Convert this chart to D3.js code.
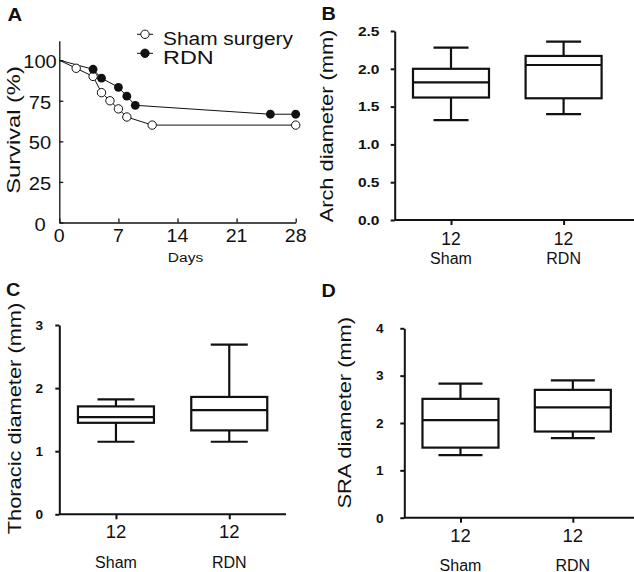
<!DOCTYPE html>
<html><head><meta charset="utf-8">
<script src="https://cdn.jsdelivr.net/npm/d3@7"></script>
<style>body{margin:0;background:#fff} svg{display:block} text{font-family:"Liberation Sans",Arial,sans-serif;fill:#111}</style>
</head><body>
<svg id="c" width="634" height="572"></svg>
<script>
// ---- Panel A: survival data ----
const shamDays = [0, 2, 4, 5, 6, 7, 8, 11, 28];
const shamSurvival = [100, 95, 90, 80, 75, 70, 65, 60, 60];
const rdnDays = [0, 4, 5, 7, 8, 9, 25, 28];
const rdnSurvival = [100, 94.4, 88.9, 83.3, 77.8, 72.2, 66.7, 66.7];
const dayTicks = [0, 7, 14, 21, 28];
const survivalTicks = [0, 25, 50, 75, 100];
const legendLabels = ["Sham surgery", "RDN"];

// ---- Panels B-D: box plots [low whisker, Q1, median, Q3, high whisker] ----
const groups = ["Sham", "RDN"];
const groupN = ["12", "12"];
const archSham = [1.32, 1.62, 1.82, 2.00, 2.28];
const archRDN = [1.40, 1.61, 2.05, 2.17, 2.36];
const archTicks = [0, 0.5, 1.0, 1.5, 2.0, 2.5];
const thoracicSham = [1.15, 1.45, 1.54, 1.71, 1.82];
const thoracicRDN = [1.15, 1.33, 1.65, 1.86, 2.69];
const thoracicTicks = [0, 1, 2, 3];
const sraSham = [1.32, 1.48, 2.06, 2.51, 2.83];
const sraRDN = [1.68, 1.82, 2.33, 2.70, 2.90];
const sraTicks = [0, 1, 2, 3, 4];

const svg = d3.select("#c");

function txt(g, s, x, y, o = {}) {
  const t = g.append("text")
    .attr("transform", `translate(${x},${y}) rotate(${o.rot || 0}) scale(${o.sx || 1},1)`)
    .attr("text-anchor", o.anchor || "start")
    .style("font-size", (o.size || 14) + "px")
    .style("font-weight", o.bold ? "bold" : "normal")
    .text(s);
  return t;
}

// ================= Panel A =================
{
  const g = svg.append("g");
  const x = d3.scaleLinear().domain([0, 28]).range([59.3, 295.7]);
  const y = d3.scaleLinear().domain([0, 112]).range([222.5, 40.7]);

  const ax = g.append("g").attr("transform", `translate(0,${y(0)})`)
    .call(d3.axisBottom(x).tickValues(dayTicks).tickSizeInner(-4).tickSizeOuter(0).tickFormat(""));
  const ay = g.append("g").attr("transform", `translate(${x(0)},0)`)
    .call(d3.axisLeft(y).tickValues(survivalTicks).tickSizeInner(-4).tickSizeOuter(0).tickFormat(""));
  [ax, ay].forEach(a => { a.selectAll("path,line").attr("stroke", "#111").attr("stroke-width", 1.3); });

  survivalTicks.forEach(v => txt(g, String(v), 40, y(v) + 8, {anchor: "middle", size: 17.5, sx: 1.15}));
  dayTicks.forEach(v => txt(g, String(v), x(v), 241.7, {anchor: "middle", size: 17.5, sx: 1.12}));
  txt(g, "Days", 185.5, 261.5, {anchor: "middle", size: 13.5, sx: 1.15});
  txt(g, "Survival (%)", 20, 130, {anchor: "middle", size: 18.5, sx: 1.28, rot: -90});
  txt(g, "A", 7.5, 20.5, {size: 18.5, bold: true, sx: 1.1});

  const line = d3.line().x(d => x(d[0])).y(d => y(d[1]));
  const sham = shamDays.map((d, i) => [d, shamSurvival[i]]);
  const rdn = rdnDays.map((d, i) => [d, rdnSurvival[i]]);
  g.append("path").attr("d", line(sham)).attr("fill", "none").attr("stroke", "#111").attr("stroke-width", 1);
  g.append("path").attr("d", line(rdn)).attr("fill", "none").attr("stroke", "#111").attr("stroke-width", 1);
  g.selectAll(".ps").data(sham.slice(1)).join("circle")
    .attr("cx", d => x(d[0])).attr("cy", d => y(d[1])).attr("r", 4.2)
    .attr("fill", "#fff").attr("stroke", "#111").attr("stroke-width", 1);
  g.selectAll(".pr").data(rdn.slice(1)).join("circle")
    .attr("cx", d => x(d[0])).attr("cy", d => y(d[1])).attr("r", 4.4)
    .attr("fill", "#111");

  // legend
  const leg = [{y: 34.3, fill: "#fff"}, {y: 53.3, fill: "#111"}];
  leg.forEach((l, i) => {
    g.append("line").attr("x1", 137).attr("x2", 153).attr("y1", l.y).attr("y2", l.y).attr("stroke", "#111").attr("stroke-width", 1);
    g.append("circle").attr("cx", 145).attr("cy", l.y).attr("r", 4.2).attr("fill", l.fill).attr("stroke", "#111").attr("stroke-width", 1);
    txt(g, legendLabels[i], 163, l.y + 10.5, {size: 18, sx: i === 0 ? 1.16 : 1.3});
  });
}

// ================= Box panels =================
function boxPanel(cfg) {
  const g = svg.append("g");
  const y = d3.scaleLinear().domain(cfg.domain).range([cfg.y0, cfg.y1]);
  const x = d3.scalePoint().domain(groups).range([cfg.x0, cfg.x0 + 2 * cfg.step]).padding(0.5);

  const ay = g.append("g").attr("transform", `translate(${cfg.x0},0)`)
    .call(d3.axisLeft(y).tickValues(cfg.ticks).tickSizeInner(4).tickSizeOuter(0).tickFormat(""));
  const ax = g.append("g").attr("transform", `translate(0,${cfg.y0})`)
    .call(d3.axisBottom(x).tickSizeInner(5).tickSizeOuter(0).tickFormat(""));
  ax.select(".domain").attr("d", `M${cfg.x0},0H${cfg.xEnd}`);
  [ax, ay].forEach(a => { a.selectAll("path,line").attr("stroke", "#111").attr("stroke-width", 2); });

  cfg.ticks.forEach(v => txt(g, cfg.fmt(v), cfg.labelX, y(v) + 4.8, {anchor: "end", size: cfg.tickSize, bold: true, sx: cfg.tickSx}));
  groups.forEach((gr, i) => {
    txt(g, groupN[i], x(gr), cfg.nY, {anchor: "middle", size: cfg.nSize});
    txt(g, gr, x(gr), cfg.catY, {anchor: "middle", size: 16});
  });
  txt(g, cfg.ylabel, cfg.ylabX, cfg.ylabY, {anchor: "middle", size: 18.5, sx: 1.18, rot: -90});
  txt(g, cfg.letter, cfg.letterX, cfg.letterY, {size: 18, bold: true, sx: 1.1});

  const bw = 76, cw = cfg.capW;
  [cfg.sham, cfg.rdn].forEach((s, i) => {
    const cx = x(groups[i]);
    const L = (x1, y1, x2, y2) => g.append("line").attr("x1", x1).attr("y1", y1).attr("x2", x2).attr("y2", y2)
      .attr("stroke", "#111").attr("stroke-width", 2.2);
    L(cx, y(s[0]), cx, y(s[1]));
    L(cx, y(s[3]), cx, y(s[4]));
    L(cx - cw / 2, y(s[0]), cx + cw / 2, y(s[0]));
    L(cx - cw / 2, y(s[4]), cx + cw / 2, y(s[4]));
    g.append("rect").attr("x", cx - bw / 2).attr("y", y(s[3])).attr("width", bw).attr("height", y(s[1]) - y(s[3]))
      .attr("fill", "#fff").attr("stroke", "#111").attr("stroke-width", 2.2);
    L(cx - bw / 2, y(s[2]), cx + bw / 2, y(s[2]));
  });
}

boxPanel({domain: [0, 2.5], y0: 220, y1: 31, x0: 394.7, step: 112.6, xEnd: 634, ticks: archTicks,
  fmt: d3.format(".1f"), labelX: 379.5, tickSize: 13.5, tickSx: 1.15, nY: 245, nSize: 17.5, catY: 264,
  ylabel: "Arch diameter (mm)", ylabX: 333, ylabY: 126, letter: "B", letterX: 321.5, letterY: 19.5,
  sham: archSham, rdn: archRDN, capW: 35});

boxPanel({domain: [0, 3], y0: 514.3, y1: 325, x0: 59.3, step: 113.3, xEnd: 286, ticks: thoracicTicks,
  fmt: d3.format("d"), labelX: 43, tickSize: 13, tickSx: 1.05, nY: 538.3, nSize: 18.5, catY: 568.3,
  ylabel: "Thoracic diameter (mm)", ylabX: 21, ylabY: 418.5, letter: "C", letterX: 6, letterY: 296,
  sham: thoracicSham, rdn: thoracicRDN, capW: 37});

boxPanel({domain: [0, 4], y0: 517.7, y1: 328.3, x0: 404.3, step: 112.35, xEnd: 634, ticks: sraTicks,
  fmt: d3.format("d"), labelX: 383.7, tickSize: 13, tickSx: 1.05, nY: 541.5, nSize: 18.5, catY: 570.5,
  ylabel: "SRA diameter (mm)", ylabX: 351, ylabY: 412.7, letter: "D", letterX: 321.5, letterY: 296.5,
  sham: sraSham, rdn: sraRDN, capW: 44});
</script>
</body></html>
